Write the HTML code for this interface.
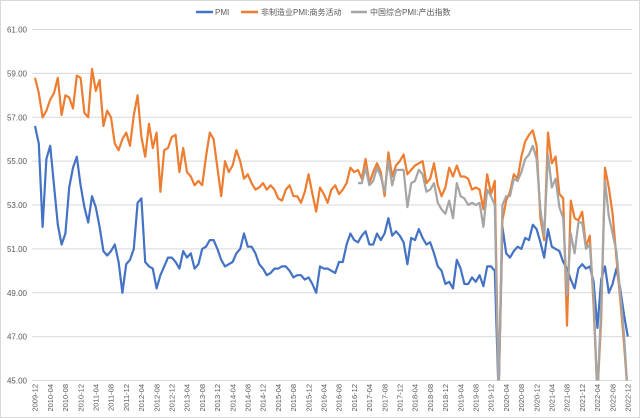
<!DOCTYPE html>
<html><head><meta charset="utf-8">
<style>
html,body{margin:0;padding:0;background:#fff;overflow:hidden;}
#c{position:relative;width:640px;height:418px;overflow:hidden;}
svg{display:block;}
text{font-family:"Liberation Sans","Noto Sans CJK SC",sans-serif;fill:#595959;}
</style></head><body>
<div id="c">
<svg id="s" width="640" height="418">
<defs><clipPath id="clip"><rect x="30" y="25" width="605" height="355.5"/></clipPath></defs>
<rect x="0.5" y="0.5" width="639" height="417" fill="#fff" stroke="#d9d9d9"/>
<g id="grid"></g>
<g id="ylab"></g>
<g id="xlab"></g>
<g id="lines" clip-path="url(#clip)"></g>
<g id="legend">
<line x1="196" y1="12" x2="213" y2="12" stroke="#4472c4" stroke-width="2.5"/>
<text x="215" y="15" font-size="8">PMI</text>
<line x1="241" y1="12" x2="258" y2="12" stroke="#ed7d31" stroke-width="2.5"/>
<text x="261" y="15" font-size="8">非制造业PMI:商务活动</text>
<line x1="351" y1="12" x2="367" y2="12" stroke="#a5a5a5" stroke-width="2.5"/>
<text x="370" y="15" font-size="8">中国综合PMI:产出指数</text>
</g>
</svg>
</div>
<script>
const yTicks=[45,47,49,51,53,55,57,59,61];
const pmi=[56.6,
55.8,52.0,55.1,55.7,53.9,52.1,51.2,51.7,53.8,54.7,55.2,53.9,
52.9,52.2,53.4,52.9,52.0,50.9,50.7,50.9,51.2,50.4,49.0,50.3,
50.5,51.0,53.1,53.3,50.4,50.2,50.1,49.2,49.8,50.2,50.6,50.6,
50.4,50.1,50.9,50.6,50.8,50.1,50.3,51.0,51.1,51.4,51.4,51.0,
50.5,50.2,50.3,50.4,50.8,51.0,51.7,51.1,51.1,50.8,50.3,50.1,
49.8,49.9,50.1,50.1,50.2,50.2,50.0,49.7,49.8,49.8,49.6,49.7,
49.4,49.0,50.2,50.1,50.1,50.0,49.9,50.4,50.4,51.2,51.7,51.4,
51.3,51.6,51.8,51.2,51.2,51.7,51.4,51.7,52.4,51.6,51.8,51.6,
51.3,50.3,51.5,51.4,51.9,51.5,51.2,51.3,50.8,50.2,50.0,49.4,
49.5,49.2,50.5,50.1,49.4,49.4,49.7,49.5,49.8,49.3,50.2,50.2,
50.0,35.7,52.0,50.8,50.6,50.9,51.1,51.0,51.5,51.4,52.1,51.9,
51.3,50.6,51.9,51.1,51.0,50.9,50.4,50.1,49.6,49.2,50.1,50.3,
50.1,50.2,49.5,47.4,49.6,50.2,49.0,49.4,50.1,49.2,48.0,47.0];
const nonMfg=[58.8,
58.1,57.0,57.3,57.8,58.1,58.8,57.1,58.0,57.9,57.4,58.9,58.8,
57.2,57.0,59.2,58.2,58.7,56.6,57.3,57.0,55.8,55.5,56.0,56.3,
55.7,57.1,58.0,56.1,55.2,56.7,55.6,56.3,53.6,55.5,55.6,56.1,
56.2,54.5,55.6,54.5,54.3,53.9,54.1,53.9,55.2,56.3,56.0,54.7,
53.4,55.0,54.5,54.8,55.5,55.0,54.2,54.4,54.0,53.7,53.8,54.0,
53.7,53.9,53.7,53.3,53.2,53.7,53.9,53.4,53.4,53.1,53.6,54.4,
53.5,52.7,53.8,53.5,53.1,53.7,53.9,53.5,53.7,54.0,54.7,54.5,
54.6,54.2,55.1,54.0,54.5,54.9,54.5,53.4,55.4,54.3,54.8,55.0,
55.3,54.4,54.6,54.8,54.9,55.0,54.0,54.2,54.9,53.9,53.4,53.8,
54.7,54.3,54.8,54.3,54.3,54.2,53.7,53.8,53.7,52.8,54.4,53.5,
54.1,29.6,52.3,53.2,53.6,54.4,54.2,55.2,55.9,56.2,56.4,55.7,
52.4,51.4,56.3,54.9,55.2,53.5,53.3,47.5,53.2,52.4,52.3,52.7,
51.1,51.6,48.4,41.9,47.8,54.7,53.8,52.6,50.6,48.7,46.7,41.6];
const compositeStart=85;
const composite=[
54.0,54.0,54.7,53.9,54.1,54.7,54.3,53.6,55.0,53.9,54.6,54.6,
54.6,52.9,54.0,54.1,54.6,54.4,53.6,53.7,54.0,53.1,52.8,52.6,
53.2,52.4,54.0,53.4,53.3,53.0,53.1,53.0,53.1,52.0,53.7,53.4,
53.0,28.9,53.0,53.4,53.4,54.2,54.1,54.5,55.1,55.3,55.7,55.1,
52.8,51.6,55.3,53.8,54.2,52.9,52.4,48.9,51.7,50.8,52.2,52.2,
51.0,51.2,48.8,42.7,48.4,54.1,52.5,51.7,50.9,49.0,47.1,42.6];

const NS="http://www.w3.org/2000/svg";
const x0=35, dx=3.8, yTop=29.5, yBot=380.5, vMin=45, vMax=61;
function X(i){return x0+i*dx;}
function Y(v){return yBot-(v-vMin)/(vMax-vMin)*(yBot-yTop);}
function mk(tag,attrs,parent){const e=document.createElementNS(NS,tag);for(const k in attrs)e.setAttribute(k,attrs[k]);parent.appendChild(e);return e;}
const grid=document.getElementById('grid'),ylab=document.getElementById('ylab'),xlab=document.getElementById('xlab'),lines=document.getElementById('lines');
yTicks.forEach(t=>{
  const l=mk('line',{x1:32,x2:632,y1:Y(t),y2:Y(t),stroke:'#d9d9d9','stroke-width':1},grid);
  
  
  const tx=mk('text',{x:27,y:Y(t)+3,'font-size':8,'text-anchor':'end'},ylab);
  tx.textContent=t.toFixed(2);
  
  
});
for(let i=0;i<pmi.length;i+=4){
  const m=(12+i-1)%12+1, yr=2009+Math.floor((11+i)/12);
  const lab=yr+'-'+(m<10?'0'+m:m);
  const tx=mk('text',{x:0,y:0,'font-size':7.5,'text-anchor':'end',transform:'translate('+(X(i)+2.7)+',384) rotate(-90)'},xlab);
  tx.textContent=lab;
  
  
}
function series(arr,start,color,name){
  const pts=arr.map((v,j)=>X(start+j).toFixed(1)+','+Math.max(Y(v),0).toFixed(1)).map((s,j)=>{const v=arr[j];return X(start+j).toFixed(1)+','+Math.min(Y(v),395).toFixed(1);}).join(' ');
  const p=mk('polyline',{points:pts,fill:'none',stroke:color,'stroke-width':2.2,'stroke-linejoin':'round'},lines);
  
  
}
series(pmi,0,'#4472c4','pmi-line');
series(nonMfg,0,'#ed7d31','non-manufacturing-line');
series(composite,compositeStart,'#a5a5a5','composite-output-line');
</script>
</body></html>
